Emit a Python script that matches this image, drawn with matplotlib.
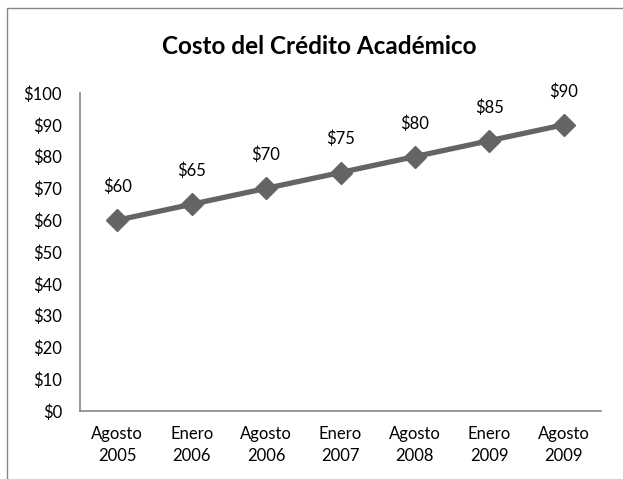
import matplotlib
matplotlib.use('Agg')
import matplotlib.pyplot as plt
from matplotlib.patches import Rectangle

# datos
periodos = ['Agosto\n2005', 'Enero\n2006', 'Agosto\n2006', 'Enero\n2007',
            'Agosto\n2008', 'Enero\n2009', 'Agosto\n2009']
costo = [60, 65, 70, 75, 80, 85, 90]
y_ticks = list(range(0, 101, 10))

plt.rcParams['font.family'] = ['Lato', 'DejaVu Sans']

fig = plt.figure(figsize=(6.23, 4.79), dpi=100)
fig.patch.set_facecolor('white')

# marco exterior (recortado a la derecha y abajo)
fig.patches.append(Rectangle((6.5/623, -0.1), 1.2, 1 - 7.5/479 + 0.1,
                             transform=fig.transFigure, fill=False,
                             edgecolor='#868686', linewidth=1.0))

ax = fig.add_axes([80/623, 1 - 411/479, 521/623, 318/479])
x = list(range(len(costo)))
ax.plot(x, costo, color='#646464', linewidth=3.8, marker='D',
        markersize=11.5, markerfacecolor='#646464', markeredgecolor='#646464')

for xi, v in zip(x, costo):
    ax.annotate('$%d' % v, (xi, v), xytext=(0, 24), textcoords='offset points',
                ha='center', va='center', fontsize=12, color='black')

ax.set_xlim(-0.5, len(costo) - 0.5)
ax.set_ylim(0, 100)
ax.set_yticks(y_ticks)
ax.set_yticklabels(['$%d' % t for t in y_ticks], fontsize=12)
ax.set_xticks(x)
ax.set_xticklabels(periodos, fontsize=12, linespacing=1.45)
ax.tick_params(axis='both', length=0)
ax.tick_params(axis='y', pad=13)
ax.tick_params(axis='x', pad=11)

for s in ['top', 'right']:
    ax.spines[s].set_visible(False)
for s in ['left', 'bottom']:
    ax.spines[s].set_color('#868686')
    ax.spines[s].set_linewidth(1.2)

fig.text(319/623, 1 - 46/479, 'Costo del Crédito Académico', ha='center',
         va='center', fontsize=17.5, fontweight='bold')

fig.savefig('out.png', dpi=100)
